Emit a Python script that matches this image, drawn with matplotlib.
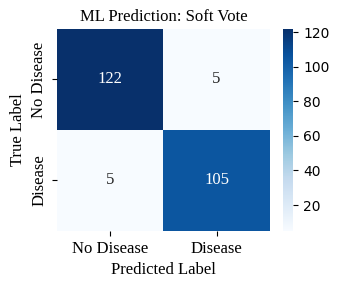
import matplotlib
matplotlib.use("Agg")
import matplotlib.pyplot as plt
import seaborn as sns
import numpy as np

# confusion matrix values
classes = ["No Disease", "Disease"]
row_no_disease = [122, 5]
row_disease = [5, 105]
cm = np.array([row_no_disease, row_disease])

fig = plt.figure(figsize=(3.39, 2.89), dpi=100)
ax = fig.add_axes([0.168, 0.201, 0.628, 0.699])
cax = fig.add_axes([0.835, 0.201, 0.030, 0.699])

sns.heatmap(cm, annot=True, fmt="d", cmap="Blues", ax=ax, cbar_ax=cax,
            xticklabels=classes, yticklabels=classes,
            annot_kws={"family": "Liberation Serif", "size": 12})

serif = {"family": "Liberation Serif", "size": 12}
ax.set_title("ML Prediction: Soft Vote", **serif)
ax.set_xlabel("Predicted Label", **serif)
ax.set_ylabel("True Label", **serif)
for lab in ax.get_xticklabels() + ax.get_yticklabels():
    lab.set_fontfamily("Liberation Serif")
    lab.set_fontsize(12)
cax.tick_params(labelsize=10)

fig.savefig("out.png", dpi=100)
